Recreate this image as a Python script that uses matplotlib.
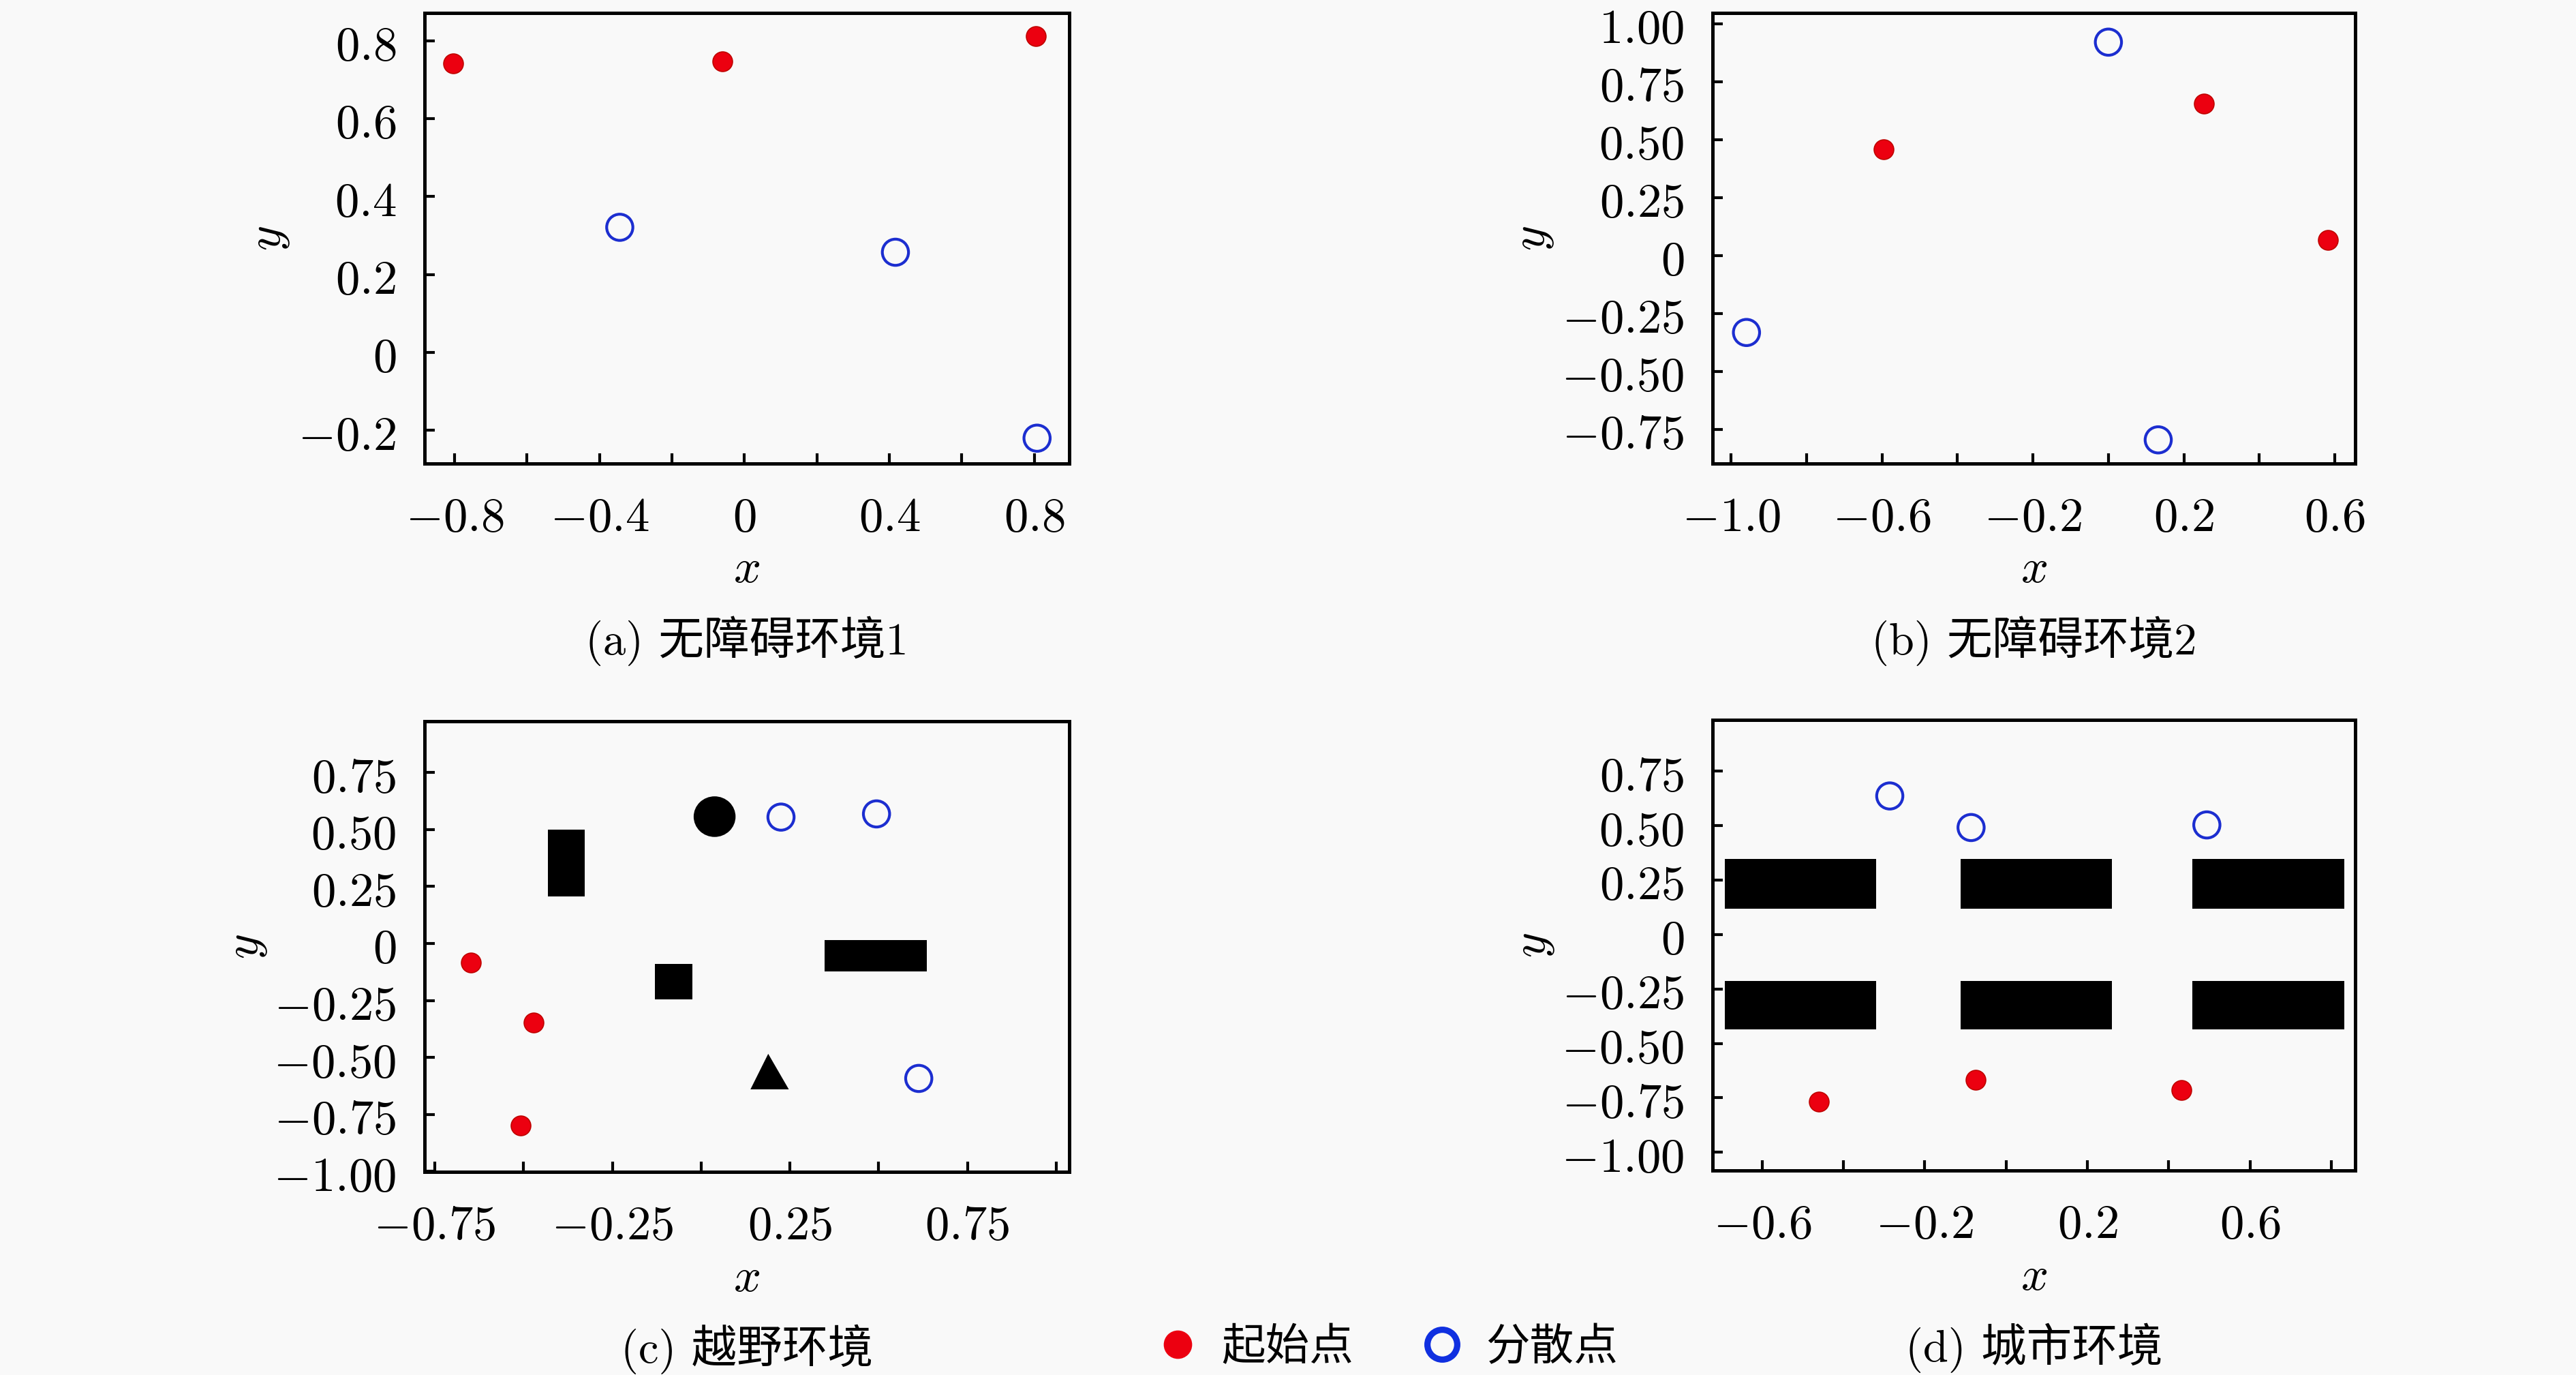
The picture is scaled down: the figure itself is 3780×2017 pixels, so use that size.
import numpy as np
import matplotlib
matplotlib.use('Agg')
import matplotlib.pyplot as plt
from matplotlib.patches import Rectangle, Ellipse, Polygon
from matplotlib.lines import Line2D

plt.rcParams['font.family'] = ['Noto Sans CJK SC', 'DejaVu Sans']
plt.rcParams['mathtext.fontset'] = 'cm'

# (a) obstacle-free 1
a_start_x = [-0.803, -0.061, 0.805]
a_start_y = [0.742, 0.746, 0.811]
a_disp_x = [-0.344, 0.417, 0.808]
a_disp_y = [0.321, 0.257, -0.220]

# (b) obstacle-free 2
b_start_x = [-0.596, 0.253, 0.582]
b_start_y = [0.459, 0.654, 0.068]
b_disp_x = [-0.959, 0.0, 0.132]
b_disp_y = [-0.332, 0.920, -0.795]

# (c) off-road
c_start_x = [-0.648, -0.471, -0.508]
c_start_y = [-0.084, -0.347, -0.799]
c_disp_x = [0.225, 0.494, 0.613]
c_disp_y = [0.554, 0.568, -0.592]
c_rects = [(-0.432, 0.205, 0.104, 0.294),
           (-0.131, -0.245, 0.106, 0.156),
           (0.347, -0.123, 0.288, 0.138)]
c_circle = (0.038, 0.556, 0.118, 0.178)
c_triangle = [(0.189, -0.484), (0.139, -0.640), (0.247, -0.640)]

# (d) urban
d_start_x = [-0.461, -0.075, 0.431]
d_start_y = [-0.768, -0.668, -0.714]
d_disp_x = [-0.286, -0.086, 0.494]
d_disp_y = [0.636, 0.491, 0.503]
d_rects = [(-0.691, 0.117, 0.371, 0.229), (-0.111, 0.117, 0.372, 0.229), (0.458, 0.117, 0.374, 0.229),
           (-0.691, -0.437, 0.371, 0.224), (-0.111, -0.437, 0.372, 0.224), (0.458, -0.437, 0.374, 0.224)]

captions = ['(a) 无障碍环境1', '(b) 无障碍环境2', '(c) 越野环境', '(d) 城市环境']
legend_labels = ['起始点', '分散点']

red = '#ec0010'
blue = '#1c2ed0'
bg = '#f9f9f9'

def lab(v, fmt, show):
    if not show:
        return ''
    if abs(v) < 1e-9:
        return '$0$'
    return '$' + (fmt % v) + '$'

def setup(ax, xlim, ylim, xt, xfmt, xevery, yt, yfmt, ylab_x, cap):
    ax.set_facecolor(bg)
    ax.set_xlim(xlim)
    ax.set_ylim(ylim)
    ax.set_xticks(xt)
    ax.set_xticklabels([lab(v, xfmt, i % xevery == 0) for i, v in enumerate(xt)])
    ax.set_yticks(yt)
    ax.set_yticklabels([lab(v, yfmt, True) for v in yt])
    ax.tick_params(direction='in', length=3.6, width=1.0, labelsize=17, pad=10)
    for s in ax.spines.values():
        s.set_linewidth(1.2)
    ax.set_xlabel('$x$', fontsize=17)
    ax.set_ylabel('$y$', fontsize=17)
    ax.xaxis.set_label_coords(0.5, -0.233)
    ax.xaxis.label.set_va('center')
    ax.yaxis.set_label_coords(ylab_x, 0.5)
    ax.yaxis.label.set_va('center')
    ax.text(0.5, -0.393, cap, transform=ax.transAxes, ha='center', va='center',
            fontsize=16, family=['cmr10', 'Noto Sans CJK SC'])

def points(ax, sx, sy, dx, dy):
    ax.scatter(sx, sy, s=48, c=red, edgecolors='#c00000', linewidths=0.4, zorder=3)
    ax.scatter(dx, dy, s=85, facecolors='none', edgecolors=blue, linewidths=1.0, zorder=3)

fig = plt.figure(figsize=(12.6, 2017 / 300), dpi=300, facecolor=bg)
axa = fig.add_axes([0.1648, 0.6629, 0.2503, 0.3277])
axb = fig.add_axes([0.6648, 0.6629, 0.2495, 0.3277])
axc = fig.add_axes([0.1648, 0.1477, 0.2503, 0.3277])
axd = fig.add_axes([0.6648, 0.1487, 0.2495, 0.3277])

points(axa, a_start_x, a_start_y, a_disp_x, a_disp_y)
setup(axa, (-0.883, 0.897), (-0.285, 0.871),
      np.arange(-0.8, 0.81, 0.2), '%.1f', 2,
      np.arange(-0.2, 0.81, 0.2), '%.1f', -0.245, captions[0])

points(axb, b_start_x, b_start_y, b_disp_x, b_disp_y)
setup(axb, (-1.049, 0.654), (-0.897, 1.046),
      np.arange(-1.0, 0.61, 0.2), '%.1f', 2,
      np.arange(-0.75, 1.01, 0.25), '%.2f', -0.283, captions[1])

for r in c_rects:
    axc.add_patch(Rectangle((r[0], r[1]), r[2], r[3], color='black', lw=0, zorder=2))
axc.add_patch(Ellipse((c_circle[0], c_circle[1]), c_circle[2], c_circle[3], color='black', lw=0, zorder=2))
axc.add_patch(Polygon(c_triangle, closed=True, color='black', lw=0, zorder=2))
points(axc, c_start_x, c_start_y, c_disp_x, c_disp_y)
setup(axc, (-0.779, 1.037), (-1.002, 0.974),
      np.arange(-0.75, 1.01, 0.25), '%.2f', 2,
      np.arange(-1.0, 0.76, 0.25), '%.2f', -0.280, captions[2])

for r in d_rects:
    axd.add_patch(Rectangle((r[0], r[1]), r[2], r[3], color='black', lw=0, zorder=2))
points(axd, d_start_x, d_start_y, d_disp_x, d_disp_y)
setup(axd, (-0.722, 0.859), (-1.084, 0.985),
      np.arange(-0.6, 0.81, 0.2), '%.1f', 2,
      np.arange(-1.0, 0.76, 0.25), '%.2f', -0.281, captions[3])

handles = [Line2D([], [], ls='none', marker='o', ms=9, mfc=red, mec=red),
           Line2D([], [], ls='none', marker='o', ms=10.5, mfc='none', mec='#1030e0', mew=2.2)]
fig.legend(handles, legend_labels, loc='center', bbox_to_anchor=(0.5375, 0.02), ncol=2,
           frameon=False, fontsize=15.5, handletextpad=0.4, columnspacing=1.4, handlelength=1.2)

fig.savefig('out.png', dpi=300, facecolor=bg)
